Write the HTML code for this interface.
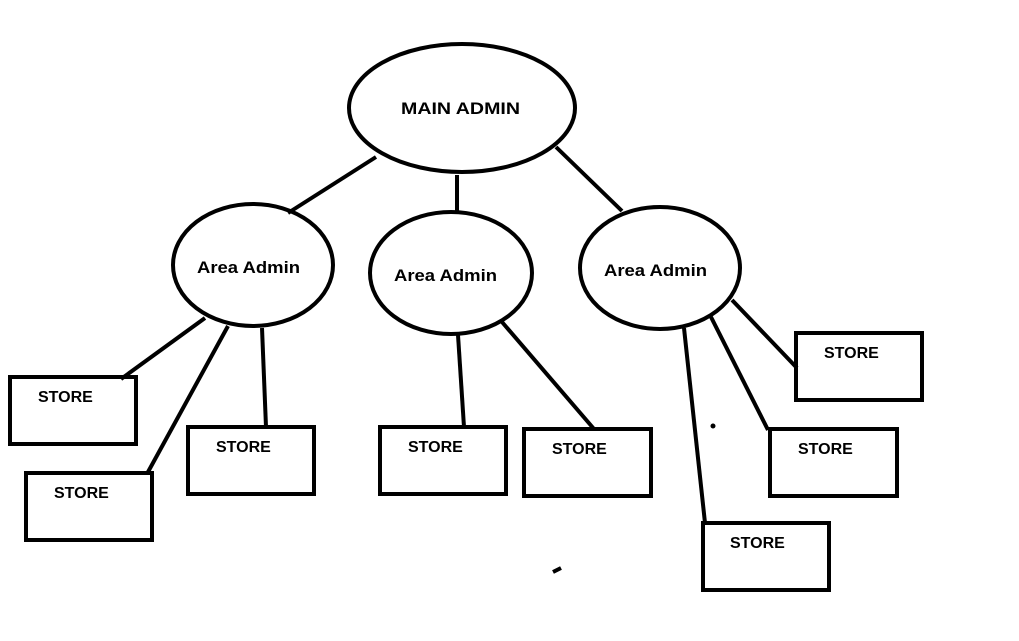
<!DOCTYPE html>
<html><head><meta charset="utf-8"><style>
html,body{margin:0;padding:0;background:#fff;}
svg{display:block;}
text{font-family:"Liberation Sans",sans-serif;font-weight:bold;font-size:16px;fill:#000;}
.b{font-size:17px;}
</style></head><body>
<svg width="1019" height="641" viewBox="0 0 1019 641" xmlns="http://www.w3.org/2000/svg">
<g fill="none" stroke="#000" stroke-width="4">
<ellipse cx="462" cy="108" rx="113" ry="64"/>
<ellipse cx="253" cy="265" rx="80" ry="61"/>
<ellipse cx="451" cy="273" rx="81" ry="61"/>
<ellipse cx="660" cy="268" rx="80" ry="61"/>
<line x1="376" y1="157" x2="288" y2="213"/>
<line x1="457" y1="175" x2="457" y2="211"/>
<line x1="556" y1="147" x2="622" y2="211"/>
<line x1="205" y1="318" x2="121" y2="379"/>
<line x1="228" y1="326" x2="148" y2="472"/>
<line x1="262" y1="328" x2="266" y2="427"/>
<line x1="458" y1="335" x2="464" y2="427"/>
<line x1="502" y1="322" x2="594" y2="429"/>
<line x1="684" y1="328" x2="705" y2="523"/>
<line x1="711" y1="317" x2="768" y2="430"/>
<line x1="732" y1="300" x2="797" y2="368"/>
<rect x="10" y="377" width="126" height="67"/>
<rect x="26" y="473" width="126" height="67"/>
<rect x="188" y="427" width="126" height="67"/>
<rect x="380" y="427" width="126" height="67"/>
<rect x="524" y="429" width="127" height="67"/>
<rect x="796" y="333" width="126" height="67"/>
<rect x="770" y="429" width="127" height="67"/>
<rect x="703" y="523" width="126" height="67"/>
</g>
<circle cx="713" cy="426" r="2.5" fill="#000"/>
<line x1="553" y1="572" x2="561" y2="568" stroke="#000" stroke-width="4"/>
<text class="b" x="401" y="114" textLength="119" lengthAdjust="spacingAndGlyphs">MAIN ADMIN</text>
<text class="b" x="197" y="273" textLength="103" lengthAdjust="spacingAndGlyphs">Area Admin</text>
<text class="b" x="394" y="281" textLength="103" lengthAdjust="spacingAndGlyphs">Area Admin</text>
<text class="b" x="604" y="276" textLength="103" lengthAdjust="spacingAndGlyphs">Area Admin</text>
<text x="38" y="402">STORE</text>
<text x="54" y="498">STORE</text>
<text x="216" y="452">STORE</text>
<text x="408" y="452">STORE</text>
<text x="552" y="454">STORE</text>
<text x="824" y="358">STORE</text>
<text x="798" y="454">STORE</text>
<text x="730" y="548">STORE</text>
</svg>
</body></html>
